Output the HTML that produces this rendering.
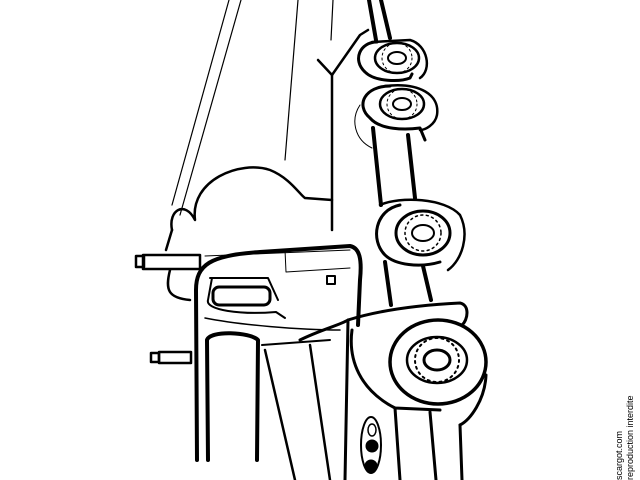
<!DOCTYPE html>
<html><head><meta charset="utf-8"><style>
html,body{margin:0;padding:0;background:#fff;width:640px;height:480px;overflow:hidden}
svg{display:block}
</style></head><body>
<svg width="640" height="480" viewBox="0 0 640 480" xmlns="http://www.w3.org/2000/svg" fill="none" stroke="#000" stroke-linecap="round" stroke-linejoin="round">
<!-- tank thin lines -->
<g stroke-width="1.2">
<path d="M229 0 L172 205"/>
<path d="M241 0 L180 215"/>
<path d="M298 0 L285 160"/>
<path d="M333 0 L331 40"/>
</g>
<!-- vertical tank end line + branch -->
<path d="M332 75 L332 230" stroke-width="2.5"/>
<path d="M318 60 L332 75 L360 35 L368 30" stroke-width="2.5"/>
<!-- frame rails -->
<g stroke-width="4">
<path d="M369 0 L376 40"/><path d="M381 0 L390 38"/>
<path d="M373 128 L381 205"/><path d="M408 135 L415 198"/>
<path d="M385 262 L391 305"/><path d="M423 266 L431 300"/>
</g>
<!-- wheel 1 -->
<path d="M377 42 C360 42 352 60 365 72 C375 82 400 82 410 78 L412 74" stroke-width="3"/>
<path d="M372 42 L410 40 C428 45 432 70 420 78" stroke-width="2.5"/>
<ellipse cx="397" cy="58" rx="22" ry="15" stroke-width="2.5"/>
<ellipse cx="397" cy="58" rx="9" ry="6" stroke-width="2"/>
<circle cx="397" cy="58" r="15" stroke-width="1" stroke-dasharray="2 3"/>
<!-- wheel 2 -->
<path d="M390 86 C365 86 355 105 370 118 C380 130 405 130 420 128 L425 140" stroke-width="3"/>
<path d="M385 86 C420 82 440 95 437 115 C435 125 425 130 420 130" stroke-width="2.5"/>
<path d="M360 105 C350 120 355 140 372 148" stroke-width="1"/>
<ellipse cx="402" cy="104" rx="22" ry="15" stroke-width="2.5"/>
<ellipse cx="402" cy="104" rx="9" ry="6" stroke-width="2"/>
<circle cx="402" cy="104" r="15" stroke-width="1" stroke-dasharray="2 3"/>
<!-- wheel 3 -->
<path d="M400 205 C375 210 370 240 385 255 C395 265 420 268 440 262" stroke-width="3"/>
<path d="M380 205 C400 196 445 198 460 215 C470 235 462 260 448 270" stroke-width="2.5"/>
<ellipse cx="423" cy="233" rx="27" ry="22" stroke-width="3"/>
<ellipse cx="423" cy="233" rx="11" ry="8" stroke-width="2"/>
<circle cx="423" cy="233" r="18" stroke-width="1.5" stroke-dasharray="2 3.5"/>
<!-- dome -->
<path d="M172 230 C168 210 185 200 195 220 C190 180 240 160 270 170 C290 178 300 195 305 198 L332 200" stroke-width="2.5"/>
<path d="M172 230 L166 250 M170 270 C165 290 168 298 190 300" stroke-width="2.5"/>
<!-- pipes -->
<rect x="143" y="255" width="57" height="14" stroke-width="2.5"/>
<rect x="136" y="256" width="8" height="11" stroke-width="2.5"/>
<rect x="159" y="352" width="32" height="11" stroke-width="2.5"/>
<rect x="151" y="353" width="8" height="9" stroke-width="2.5"/>
<!-- cab -->
<path d="M197 460 L196 290 C196 265 210 255 260 252 L350 246 C360 248 362 260 360 280 L358 325" stroke-width="4"/>
<path d="M205 256 L350 250" stroke-width="1"/>
<path d="M285 250 L286 272 L350 268" stroke-width="1"/>
<rect x="327" y="276" width="8" height="8" stroke-width="2"/>
<!-- sleeper window -->
<path d="M210 278 L268 278 L278 300 M212 278 L208 300 C205 310 240 315 276 312 L285 318" stroke-width="2"/>
<rect x="213" y="287" width="57" height="18" rx="6" stroke-width="3"/>
<path d="M205 318 C240 325 300 330 340 330" stroke-width="1.5"/>
<!-- windshield -->
<path d="M208 460 L207 340 C210 330 250 332 258 340 L257 460" stroke-width="4"/>
<path d="M262 345 L330 340" stroke-width="2"/>
<path d="M265 350 L295 480 M310 345 L330 480" stroke-width="2.5"/>
<path d="M300 340 C320 330 340 325 348 320 L345 480" stroke-width="3"/>
<!-- hood / fender -->
<path d="M348 320 C380 310 420 305 460 303 C470 305 468 320 462 325" stroke-width="3"/>
<path d="M352 330 C348 360 360 390 395 408 L440 410" stroke-width="3"/>
<!-- front wheel -->
<ellipse cx="438" cy="362" rx="48" ry="42" stroke-width="3.5"/>
<ellipse cx="437" cy="360" rx="30" ry="23" stroke-width="2.5"/>
<ellipse cx="437" cy="360" rx="13" ry="10" stroke-width="3"/>
<circle cx="437" cy="360" r="22" stroke-width="2" stroke-dasharray="2 4"/>
<path d="M486 375 C485 400 470 420 460 425" stroke-width="3"/>
<!-- grille / bumper -->
<path d="M395 408 L400 480 M430 412 L436 480 M460 425 L462 480" stroke-width="3"/>
<ellipse cx="371" cy="445" rx="10" ry="28" stroke-width="2"/>
<ellipse cx="372" cy="430" rx="4" ry="6" stroke-width="1.5"/>
<ellipse cx="372" cy="446" rx="6" ry="6" fill="#000" stroke-width="1"/>
<ellipse cx="371" cy="466" rx="6" ry="6" fill="#000" stroke-width="1"/>
<g fill="#000" stroke="none" font-family="Liberation Sans, sans-serif" font-size="9">
<text transform="translate(622 480) rotate(-90)">scargot.com</text>
<text transform="translate(633 480) rotate(-90)">reproduction interdite</text>
</g>
</svg>
</body></html>
